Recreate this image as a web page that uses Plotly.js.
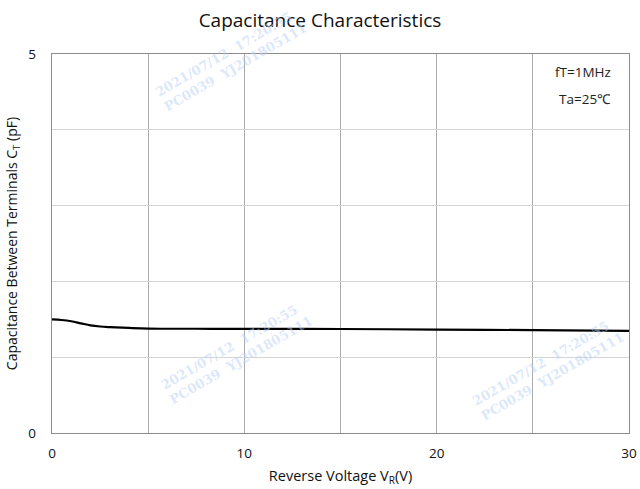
<!DOCTYPE html>
<html>
<head>
<meta charset="utf-8">
<script src="https://cdn.plot.ly/plotly-3.0.1.min.js"></script>
<style>html,body{margin:0;padding:0;background:#fff;}#chart{width:640px;height:489px;}</style>
</head>
<body>
<div id="chart"></div>
<script>
const voltage = [0, 0.5, 1, 1.5, 2, 2.5, 3, 4, 5, 7.5, 10, 15, 20, 25, 30];
const capacitance = [1.50, 1.491, 1.474, 1.447, 1.42, 1.405, 1.397, 1.386, 1.378, 1.375, 1.374, 1.372, 1.365, 1.357, 1.346];
const xTickVals = [0, 10, 20, 30];
const yTickVals = [0, 5];
const conditions = ["fT=1MHz", "Ta=25\u2103"];
const watermarkText = "2021/07/12  17:20:55<br>PC0039  YJ201805111";

const font = "Open Sans, Noto Sans, sans-serif";
const wmPositions = [[0.31, 0.985], [0.32, 0.21], [0.86, 0.17]];
const annotations = [
  {text: conditions[0], xref: "paper", yref: "paper", x: 0.972, y: 0.952, xanchor: "right", yanchor: "middle", showarrow: false, font: {family: font, size: 13.5, color: "#222"}},
  {text: conditions[1], xref: "paper", yref: "paper", x: 0.972, y: 0.88, xanchor: "right", yanchor: "middle", showarrow: false, font: {family: font, size: 13.5, color: "#222"}}
];
wmPositions.forEach(p => annotations.push({
  text: watermarkText, xref: "paper", yref: "paper", x: p[0], y: p[1], xanchor: "center", yanchor: "middle",
  showarrow: false, textangle: -30, font: {family: "DejaVu Serif, serif", size: 13, weight: "bold", color: "rgba(185,207,245,0.5)"}, align: "left"
}));

const data = [{
  x: voltage, y: capacitance, type: "scatter", mode: "lines",
  line: {color: "#000", width: 2.2, shape: "spline"}, hoverinfo: "skip"
}];

const layout = {
  width: 640, height: 489,
  margin: {l: 52, r: 11, t: 54, b: 56},
  paper_bgcolor: "#fff", plot_bgcolor: "#fff",
  showlegend: false,
  title: {text: "Capacitance Characteristics", x: 0.5, xref: "container", y: 0.958, yref: "container", yanchor: "middle", font: {family: font, size: 19, color: "#111"}},
  xaxis: {
    range: [0, 30], tickvals: xTickVals, showgrid: false,
    minor: {dtick: 5, showgrid: true, gridcolor: "#ababab", gridwidth: 1},
    showline: true, linecolor: "#8c8c8c", linewidth: 1.2, mirror: true,
    ticks: "outside", ticklen: 8, tickcolor: "rgba(0,0,0,0)",
    zeroline: false, tickfont: {family: font, size: 13.5, color: "#111"},
    title: {text: "Reverse Voltage V<sub>R</sub>(V)", font: {family: font, size: 14.5, color: "#111"}, standoff: 9}
  },
  yaxis: {
    range: [0, 5], tickvals: yTickVals, showgrid: false,
    minor: {dtick: 1, showgrid: true, gridcolor: "#d4d4d4", gridwidth: 1},
    showline: true, linecolor: "#8c8c8c", linewidth: 1.2, mirror: true,
    ticks: "outside", ticklen: 12, tickcolor: "rgba(0,0,0,0)",
    zeroline: false, tickfont: {family: font, size: 13.5, color: "#111"},
    title: {text: "Capacitance Between Terminals C<sub>T</sub> (pF)", font: {family: font, size: 14, color: "#111"}, standoff: 7}
  },
  annotations: annotations
};

Plotly.newPlot("chart", data, layout, {staticPlot: true, displayModeBar: false});
</script>
</body>
</html>
